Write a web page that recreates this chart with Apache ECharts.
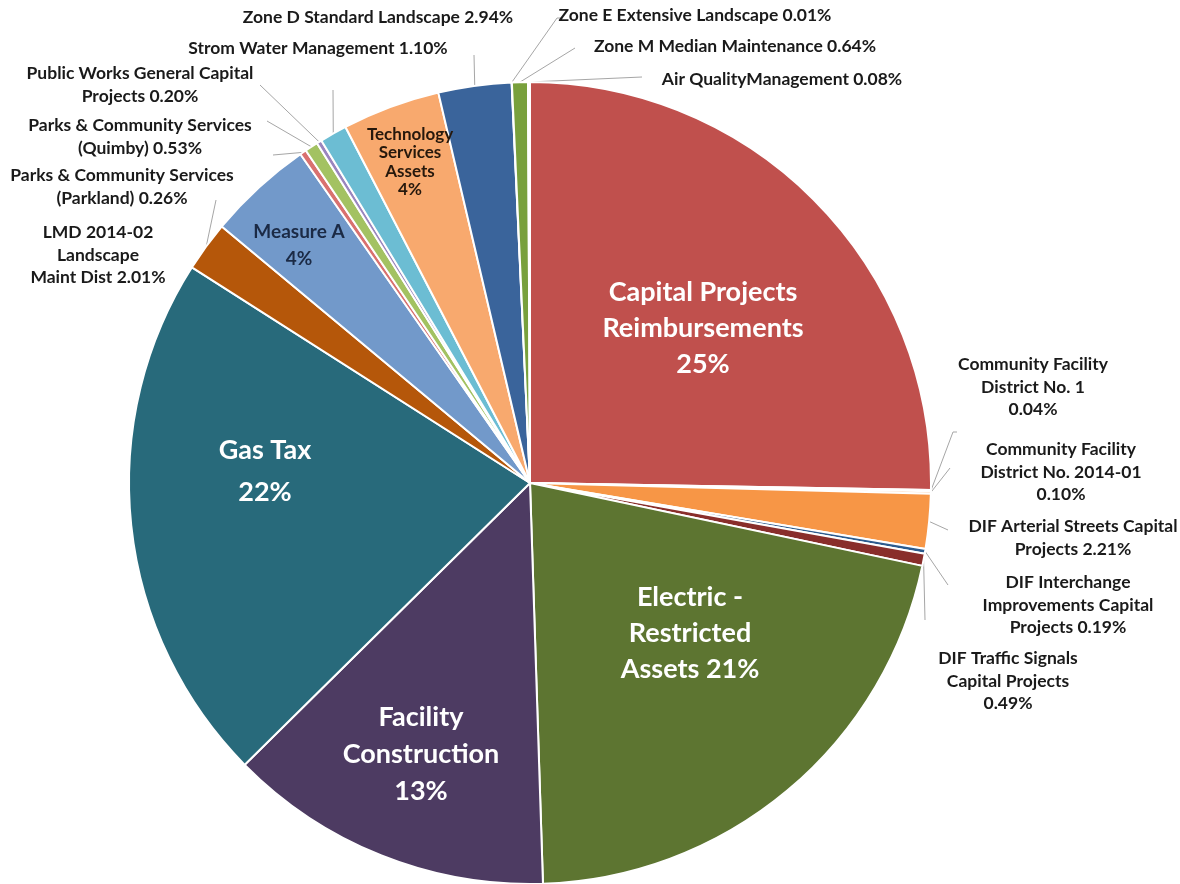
<!DOCTYPE html>
<html>
<head>
<meta charset="utf-8">
<script src="https://cdn.jsdelivr.net/npm/echarts@6/dist/echarts.min.js"></script>
<style>
html,body{margin:0;padding:0;background:#fff;}
#chart{width:1180px;height:884px;}
</style>
</head>
<body>
<div id="chart"></div>
<script>
// ---- data ----
const categories = [
  'Capital Projects Reimbursements',
  'Community Facility District No. 1',
  'Community Facility District No. 2014-01',
  'DIF Arterial Streets Capital Projects',
  'DIF Interchange Improvements Capital Projects',
  'DIF Traffic Signals Capital Projects',
  'Electric - Restricted Assets',
  'Facility Construction',
  'Gas Tax',
  'LMD 2014-02 Landscape Maint Dist',
  'Measure A',
  'Parks & Community Services (Parkland)',
  'Parks & Community Services (Quimby)',
  'Public Works General Capital Projects',
  'Strom Water Management',
  'Technology Services Assets',
  'Zone D Standard Landscape',
  'Zone E Extensive Landscape',
  'Zone M Median Maintenance',
  'Air QualityManagement'
];
const values = [25.28, 0.04, 0.10, 2.21, 0.19, 0.49, 21.17, 13.11, 21.44, 2.01, 4.25, 0.26, 0.53, 0.20, 1.10, 3.94, 2.94, 0.01, 0.64, 0.08];
const labelTexts = [
  'Capital Projects\nReimbursements\n25%',
  'Community Facility\nDistrict No. 1\n0.04%',
  'Community Facility\nDistrict No. 2014-01\n0.10%',
  'DIF Arterial Streets Capital\nProjects 2.21%',
  'DIF Interchange\nImprovements Capital\nProjects 0.19%',
  'DIF Traffic Signals\nCapital Projects\n0.49%',
  'Electric -\nRestricted\nAssets 21%',
  'Facility\nConstruction\n13%',
  'Gas Tax\n22%',
  'LMD 2014-02\nLandscape\nMaint Dist 2.01%',
  'Measure A\n4%',
  'Parks & Community Services\n(Parkland) 0.26%',
  'Parks & Community Services\n(Quimby) 0.53%',
  'Public Works General Capital\nProjects 0.20%',
  'Strom Water Management 1.10%',
  'Technology\nServices\nAssets\n4%',
  'Zone D Standard Landscape 2.94%',
  'Zone E Extensive Landscape 0.01%',
  'Zone M Median Maintenance 0.64%',
  'Air QualityManagement 0.08%'
];

// ---- styles & layout (kept apart from data) ----
const colors = ['#C0504D','#D99694','#FAC090','#F79646','#2C5B8E','#892E2B','#5D7531','#4D3B62','#286A7B','#B5570A',
                '#7299CA','#D9716F','#A3C262','#9A85BE','#6CBDD3','#F8A96E','#3A649B','#8C8C8C','#78A03C','#C6D9F1'];
const labelKind = ['big','out','out','out','out','out','big','big','big','out','mid','out','out','out','out','tech','out','out','out','out'];
const lineHeightOverride = {8: 42, 7: 37};
const labelPos = [
  [703,328],[1033,387],[1061,472],[1073,538],[1068,605],[1008,681],
  [690,633],[421,754],[265,471],[98,255],[299,245],[122,187],[140,137],[140,85],[318,48],
  [410,162],[378,17],[695,15],[735,46],[782,79]
];
const leaderPts = [
  null,[[953,432],[957,432]],[[950,468],[950,468]],[[948,530],[948,530]],[[948,585],[948,585]],[[925,620],[925,620]],
  null,null,null,[[216,200],[216,200]],null,[[273,155],[273,155]],[[267,121],[267,121]],[[260,85],[260,85]],[[333,90],[333,90]],
  null,[[474,55],[474,55]],[[557,18],[563,18]],[[575,48],[575,48]],[[642,77],[642,77]]
];
const FONT = 'Lato, "Open Sans", "DejaVu Sans", sans-serif';
const kindStyle = {
  big:  {color:'#FFFFFF', fontSize:27, lineHeight:36},
  mid:  {color:'#1B2A45', fontSize:19, lineHeight:27},
  tech: {color:'#26180C', fontSize:17, lineHeight:18.5},
  out:  {color:'#1A1A1A', fontSize:17.5, lineHeight:22.5}
};

const seriesData = categories.map(function (name, i) {
  const k = labelKind[i];
  const st = kindStyle[k];
  return {
    name: name,
    value: values[i],
    itemStyle: {color: colors[i]},
    label: {
      show: true,
      position: k === 'out' ? 'outside' : 'inside',
      formatter: labelTexts[i],
      color: st.color,
      fontSize: st.fontSize,
      lineHeight: lineHeightOverride[i] || st.lineHeight,
      fontWeight: 'bold',
      fontFamily: FONT,
      align: 'center',
      verticalAlign: 'middle'
    },
    labelLine: {show: k === 'out', lineStyle: {color: '#A6A6A6', width: 1}, length: 10, length2: 10}
  };
});

const chart = echarts.init(document.getElementById('chart'), null, {renderer: 'canvas'});
chart.setOption({
  animation: false,
  backgroundColor: '#FFFFFF',
  series: [{
    type: 'pie',
    center: [530, 483],
    radius: 401,
    startAngle: 90,
    clockwise: true,
    avoidLabelOverlap: false,
    minAngle: 0,
    itemStyle: {borderColor: '#FFFFFF', borderWidth: 2},
    emphasis: {disabled: true},
    data: seriesData,
    labelLayout: function (params) {
      const i = params.dataIndex;
      const p = labelPos[i];
      const res = {x: p[0], y: p[1], align: 'center', verticalAlign: 'middle'};
      if (leaderPts[i] && params.labelLinePoints) {
        const p0 = params.labelLinePoints[0];
        res.labelLinePoints = [[p0[0], p0[1]], leaderPts[i][0], leaderPts[i][1]];
      }
      return res;
    }
  }]
});
</script>
</body>
</html>
